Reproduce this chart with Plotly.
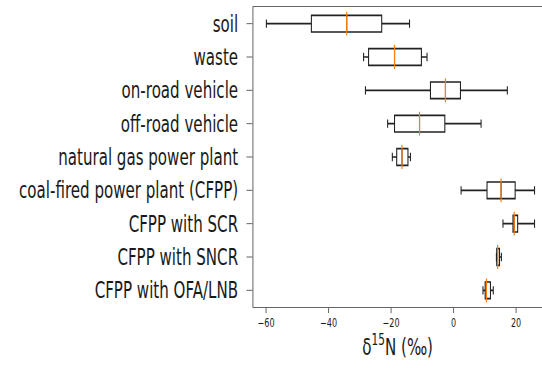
import plotly.graph_objects as go

categories = ["soil", "waste", "on-road vehicle", "off-road vehicle",
              "natural gas power plant", "coal-fired power plant (CFPP)",
              "CFPP with SCR", "CFPP with SNCR", "CFPP with OFA/LNB"]
lower_whisker = [-59.9, -28.8, -28.2, -21.1, -19.6, 2.4, 15.8, 13.7, 9.4]
q1 = [-45.5, -27.2, -7.4, -18.9, -18.2, 10.7, 19.0, 13.8, 10.1]
median = [-34.2, -18.9, -2.6, -10.9, -16.5, 15.2, 19.4, 14.1, 10.5]
q3 = [-23.0, -10.3, 2.2, -2.8, -14.6, 19.7, 20.5, 14.7, 11.8]
upper_whisker = [-14.1, -8.5, 17.2, 8.8, -13.8, 25.9, 25.9, 15.3, 12.7]
x_ticks = [-60, -40, -20, 0, 20]

S = 0.67  # horizontal compression of the reference image
W = round(542 / S)
H = 368
FONT = "DejaVu Sans"

fig = go.Figure()
fig.add_trace(go.Box(
    y=categories, q1=q1, median=median, q3=q3,
    lowerfence=lower_whisker, upperfence=upper_whisker,
    orientation="h", boxpoints=False,
    fillcolor="rgba(0,0,0,0)",
    line=dict(color="#222222", width=1.6),
    whiskerwidth=0.5, showlegend=False, hoverinfo="skip",
))
fig.add_trace(go.Scatter(
    x=median, y=categories, mode="markers",
    marker=dict(symbol="line-ns", size=17, color="#ff7f0e",
                line=dict(color="#ff7f0e", width=1.8)),
    showlegend=False, hoverinfo="skip",
))

fig.update_layout(
    width=W, height=H,
    margin=dict(l=round(253 / S), r=0, t=7, b=61),
    paper_bgcolor="white", plot_bgcolor="white",
    boxgap=0.5, boxgroupgap=0,
    font=dict(family=FONT, color="#1a1a1a"),
    showlegend=False,
)
fig.update_xaxes(
    range=[-64.1, 28.3], tickvals=x_ticks,
    showgrid=False, zeroline=False,
    showline=True, linecolor="#444444", linewidth=1.2, mirror=True,
    ticks="outside", ticklen=5, tickwidth=1.2, tickcolor="#444444",
    tickfont=dict(size=12, family=FONT, color="#1a1a1a"),
    title=dict(text="δ<sup>15</sup>N (‰)", font=dict(size=22.5, family=FONT, color="#1a1a1a"), standoff=6),
)
fig.update_yaxes(
    type="category", categoryorder="array", categoryarray=categories,
    range=[8.5, -0.5],
    showgrid=False, zeroline=False,
    showline=True, linecolor="#444444", linewidth=1.2, mirror=False,
    ticks="outside", ticklen=9, tickwidth=1.2, tickcolor="#444444",
    ticklabelstandoff=8,
    tickfont=dict(size=22.5, family=FONT, color="#1a1a1a"),
)

post = f"""
var gd = document.getElementById('{{plot_id}}');
gd.style.transform = 'scaleX({S})';
gd.style.transformOrigin = '0 0';
document.body.style.margin = '0';
document.body.style.overflow = 'hidden';
document.documentElement.style.overflow = 'hidden';
"""
fig.write_html("out.html", config={"displayModeBar": False}, post_script=post)
